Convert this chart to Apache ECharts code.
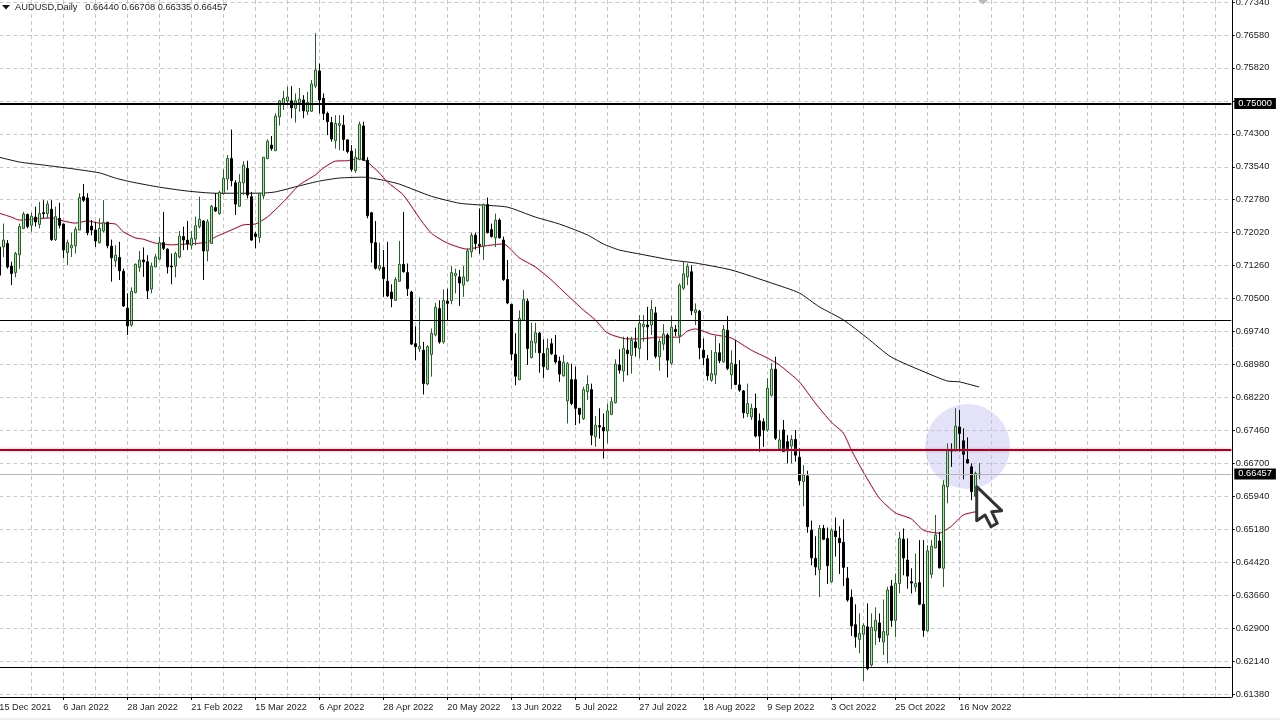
<!DOCTYPE html>
<html><head><meta charset="utf-8">
<style>html,body{margin:0;padding:0;background:#fff}#c{width:1280px;height:720px}</style>
<script src="https://cdn.jsdelivr.net/npm/echarts@6/dist/echarts.min.js"></script>
</head><body><div id="c"></div>
<script>
const titleText = 'AUDUSD,Daily   0.66440 0.66708 0.66335 0.66457';
const totalSlots = 309;
const lastLabelIndex = 240;
const priceTicks = [0.7734,0.7658,0.7582,0.7506,0.743,0.7354,0.7278,0.7202,0.7126,0.705,0.6974,0.6898,0.6822,0.6746,0.667,0.6594,0.6518,0.6442,0.6366,0.629,0.6214,0.6138];
const hiddenPriceLabel = 0.7506;
const supportResistance = {major: 0.75, minor1: 0.7, minor2: 0.62, red: 0.6702};
const lastPrice = 0.66457;

const opens = [.7169,.7169,.7177,.7125,.7110,.7151,.7212,.7244,.7219,.7238,.7221,.7248,.7246,.7256,.7186,.7235,.7222,.7156,.7167,.7172,
.7208,.7285,.7282,.7217,.7208,.7179,.7206,.7226,.7171,.7137,.7145,.7113,.7028,.6989,.7064,.7122,.7139,.7135,.7072,.7123,
.7141,.7179,.7164,.7125,.7125,.7146,.7193,.7185,.7173,.7187,.7216,.7229,.7160,.7177,.7260,.7246,.7293,.7326,.7373,.7317,
.7263,.7317,.7350,.7285,.7199,.7191,.7287,.7373,.7404,.7391,.7469,.7498,.7506,.7506,.7489,.7502,.7508,.7481,.7482,.7540,
.7575,.7512,.7477,.7456,.7414,.7449,.7450,.7416,.7390,.7345,.7371,.7448,.7369,.7248,.7179,.7119,.7122,.7090,.7065,.7046,
.7090,.7129,.7110,.7065,.6946,.6934,.6931,.6853,.6921,.6966,.7027,.6950,.7044,.7045,.7103,.7100,.7081,.7091,.7158,.7196,
.7175,.7171,.7267,.7209,.7190,.7231,.7185,.7094,.7037,.6922,.6863,.7000,.7044,.6914,.6948,.6970,.6923,.6887,.6946,.6920,
.6906,.6872,.6814,.6863,.6863,.6797,.6773,.6835,.6840,.6731,.6757,.6753,.6745,.6783,.6810,.6897,.6883,.6931,.6919,.6950,
.6935,.6985,.6989,.6989,.7017,.6916,.6945,.6966,.6901,.6979,.6964,.7074,.7100,.7112,.7018,.7021,.6931,.6911,.6862,.6874,
.6925,.6904,.6977,.6874,.6898,.6851,.6837,.6785,.6777,.6797,.6768,.6766,.6747,.6827,.6887,.6704,.6747,.6720,.6710,.6725,
.6684,.6628,.6641,.6516,.6451,.6425,.6520,.6497,.6397,.6514,.6497,.6488,.6405,.6361,.6298,.6264,.6276,.6293,.6205,.6284,
.6302,.6258,.6274,.6387,.6308,.6393,.6495,.6447,.6397,.6385,.6395,.6345,.6284,.6414,.6475,.6491,.6428,.6616,.6701,.6699,
.6754,.6722,.6679,.6662,.6595,.66440];
const highs = [.7185,.7223,.7185,.7135,.7158,.7223,.7250,.7246,.7248,.7262,.7273,.7277,.7276,.7277,.7262,.7271,.7223,.7186,.7202,.7216,
.7293,.7314,.7293,.7231,.7227,.7235,.7277,.7227,.7186,.7173,.7181,.7119,.7062,.7076,.7131,.7160,.7168,.7150,.7133,.7153,
.7193,.7250,.7166,.7154,.7158,.7206,.7216,.7229,.7206,.7239,.7285,.7231,.7233,.7266,.7293,.7299,.7348,.7381,.7440,.7323,
.7337,.7367,.7368,.7296,.7204,.7294,.7376,.7417,.7425,.7477,.7508,.7529,.7539,.7540,.7523,.7536,.7519,.7527,.7554,.7662,
.7592,.7523,.7481,.7469,.7473,.7473,.7473,.7417,.7404,.7396,.7458,.7458,.7376,.7250,.7229,.7179,.7162,.7181,.7083,.7100,
.7183,.7250,.7131,.7068,.6986,.7053,.6950,.6943,.6981,.7040,.7046,.7071,.7073,.7125,.7119,.7116,.7125,.7166,.7202,.7202,
.7258,.7269,.7283,.7223,.7246,.7235,.7193,.7139,.7037,.6970,.7023,.7070,.7050,.6994,.6994,.6973,.6956,.6958,.6958,.6966,
.6916,.6920,.6904,.6900,.6893,.6797,.6847,.6873,.6854,.6779,.6797,.6785,.6808,.6823,.6910,.6933,.6962,.6962,.6962,.6983,
.7012,.7012,.7031,.7047,.7031,.6958,.6991,.6970,.7010,.6989,.7085,.7135,.7131,.7127,.7039,.7024,.6958,.6920,.6931,.6964,
.6947,.6989,.7010,.6931,.6954,.6908,.6839,.6854,.6808,.6831,.6785,.6774,.6866,.6901,.6916,.6747,.6770,.6735,.6735,.6747,
.6705,.6666,.6653,.6538,.6502,.6528,.6528,.6522,.6520,.6545,.6525,.6541,.6431,.6379,.6345,.6324,.6301,.6347,.6324,.6338,
.6324,.6356,.6385,.6401,.6416,.6512,.6520,.6497,.6428,.6462,.6493,.6493,.6481,.6493,.6551,.6512,.6631,.6716,.6716,.6797,
.6793,.6751,.6730,.6670,.6651,.66708];
const lows = [.7100,.7146,.7119,.7081,.7099,.7119,.7210,.7212,.7204,.7216,.7212,.7235,.7235,.7183,.7183,.7212,.7143,.7127,.7146,.7154,
.7208,.7273,.7196,.7196,.7169,.7177,.7202,.7166,.7089,.7123,.7093,.7031,.6966,.6985,.7062,.7112,.7100,.7049,.7062,.7122,
.7139,.7162,.7108,.7083,.7099,.7143,.7162,.7162,.7163,.7173,.7212,.7093,.7136,.7177,.7250,.7243,.7289,.7300,.7309,.7243,
.7262,.7289,.7281,.7183,.7166,.7179,.7279,.7371,.7391,.7391,.7449,.7485,.7496,.7466,.7456,.7481,.7466,.7473,.7481,.7535,
.7477,.7462,.7427,.7412,.7396,.7392,.7391,.7385,.7343,.7340,.7369,.7369,.7235,.7133,.7117,.7114,.7054,.7054,.7030,.7045,
.7088,.7110,.7056,.6943,.6908,.6927,.6829,.6850,.6870,.6963,.6946,.6946,.7000,.7037,.7062,.7033,.7054,.7089,.7145,.7163,
.7153,.7139,.7200,.7191,.7169,.7189,.7091,.7037,.6908,.6850,.6862,.6999,.6897,.6912,.6925,.6879,.6867,.6885,.6920,.6900,
.6858,.6870,.6762,.6804,.6758,.6762,.6770,.6816,.6712,.6708,.6727,.6681,.6716,.6781,.6808,.6877,.6858,.6873,.6877,.6916,
.6912,.6951,.6908,.6966,.6912,.6884,.6931,.6868,.6897,.6964,.6947,.7070,.7081,.7012,.6989,.6910,.6897,.6861,.6858,.6853,
.6901,.6902,.6885,.6841,.6851,.6835,.6774,.6777,.6770,.6730,.6697,.6708,.6743,.6824,.6724,.6701,.6697,.6670,.6670,.6674,
.6620,.6571,.6510,.6435,.6412,.6362,.6493,.6392,.6395,.6455,.6415,.6387,.6351,.6272,.6245,.6232,.6168,.6193,.6201,.6251,
.6258,.6228,.6209,.6293,.6270,.6370,.6412,.6381,.6370,.6374,.6343,.6270,.6282,.6405,.6474,.6428,.6385,.6578,.6662,.6697,
.6697,.6633,.6670,.6585,.6593,.66335];
const closes = [.7104,.7185,.7123,.7108,.7154,.7216,.7245,.7216,.7240,.7227,.7246,.7246,.7268,.7186,.7239,.7219,.7162,.7179,.7173,.7210,
.7283,.7277,.7202,.7208,.7183,.7212,.7225,.7172,.7144,.7150,.7114,.7033,.6987,.7067,.7129,.7139,.7135,.7068,.7125,.7146,
.7179,.7166,.7123,.7123,.7154,.7194,.7185,.7176,.7189,.7218,.7233,.7160,.7227,.7263,.7252,.7295,.7327,.7373,.7322,.7268,
.7319,.7358,.7289,.7185,.7193,.7293,.7376,.7413,.7396,.7471,.7506,.7512,.7515,.7490,.7506,.7510,.7483,.7502,.7545,.7577,
.7508,.7477,.7458,.7418,.7454,.7454,.7417,.7389,.7348,.7376,.7452,.7369,.7241,.7179,.7120,.7126,.7096,.7056,.7050,.7094,
.7129,.7112,.7073,.6945,.6939,.6940,.6854,.6939,.6970,.7030,.6950,.7046,.7039,.7110,.7108,.7086,.7100,.7160,.7196,.7177,
.7172,.7267,.7202,.7193,.7231,.7190,.7094,.7040,.6922,.6871,.7004,.7048,.6935,.6952,.6971,.6925,.6893,.6935,.6923,.6904,
.6876,.6903,.6900,.6808,.6797,.6783,.6840,.6852,.6735,.6758,.6754,.6745,.6791,.6812,.6899,.6885,.6935,.6923,.6954,.6937,
.6993,.6991,.6985,.7025,.6917,.6951,.6968,.6908,.6984,.6974,.7081,.7107,.7124,.7022,.7024,.6937,.6914,.6872,.6877,.6926,
.6907,.6979,.6889,.6901,.6852,.6839,.6787,.6808,.6797,.6733,.6733,.6747,.6843,.6887,.6728,.6724,.6697,.6699,.6725,.6689,
.6630,.6643,.6524,.6452,.6431,.6520,.6495,.6434,.6516,.6501,.6487,.6430,.6355,.6295,.6270,.6278,.6296,.6197,.6292,.6308,
.6268,.6282,.6378,.6308,.6393,.6497,.6452,.6410,.6394,.6393,.6345,.6285,.6468,.6479,.6505,.6429,.6620,.6699,.6698,.6756,
.6739,.6691,.6671,.6605,.6647,.66457];

const ma50Index = [0,3,5,9,13,16,19,22,25,29,31,34,36,39,43,47,52,54,58,61,64,67,71,75,79,81,84,87,90,92,95,97,101,105,108,112,117,121,126,130,134,138,142,146,149,152,157,160,165,170,172,174,178,183,188,192,195,200,204,208,211,213,216,220,224,228,231,235,238,241,245];
const ma50Values = [.7247,.7238,.7231,.7234,.7236,.7229,.7224,.7229,.7224,.7222,.7204,.7190,.7187,.7178,.7174,.7176,.7180,.7192,.7208,.7220,.7222,.7238,.7273,.7312,.7335,.7351,.7367,.7368,.7373,.7365,.7340,.7319,.7289,.7236,.7201,.7178,.7164,.7171,.7176,.7144,.7123,.7093,.7058,.7024,.7001,.6971,.6957,.6957,.6961,.6961,.6975,.6980,.6968,.6959,.6931,.6913,.6897,.6858,.6809,.6765,.6740,.6701,.6650,.6590,.6556,.6542,.6516,.6509,.6525,.6551,.6560];
const ma200Index = [0,5,11,17,25,29,33,40,47,54,65,69,75,80,85,91,96,100,108,115,120,127,134,140,147,151,155,160,168,174,183,193,200,205,211,217,223,232,237,240,245];
const ma200Values = [.7376,.7365,.7358,.7351,.7340,.7328,.7319,.7307,.7298,.7293,.7293,.7296,.7310,.7321,.7328,.7330,.7323,.7314,.7286,.7270,.7266,.7261,.7238,.7222,.7197,.7176,.7162,.7153,.7139,.7132,.7116,.7086,.7063,.7031,.7001,.6959,.6915,.6878,.6860,.6858,.6846];

const monthNames = ['Jan','Feb','Mar','Apr','May','Jun','Jul','Aug','Sep','Oct','Nov','Dec'];
const categories = [];
for (let d = new Date(Date.UTC(2021,11,15)); categories.length < totalSlots; d = new Date(d.getTime()+86400000)) {
  const w = d.getUTCDay();
  if (w !== 0 && w !== 6) categories.push(d.getUTCDate()+' '+monthNames[d.getUTCMonth()]+' '+d.getUTCFullYear());
}

const FONT = '"Liberation Sans", Arial, sans-serif';
const candleData = opens.map((o,i)=>[o,closes[i],lows[i],highs[i]]);
const priceBadge = {show:true,position:'end',distance:3,color:'#fff',backgroundColor:'#000',padding:[1,4,1,4],fontFamily:FONT,fontSize:9.3};

const chart = echarts.init(document.getElementById('c'), null, {renderer:'canvas'});
chart.setOption({
  animation:false,
  backgroundColor:'#ffffff',
  title:{text:titleText,left:15,top:3,padding:0,textStyle:{fontFamily:FONT,fontSize:9.3,fontWeight:'normal',color:'#222'}},
  grid:{left:-0.7,top:0,width:1232,height:697,containLabel:false,outerBoundsMode:'none'},
  xAxis:{type:'category',data:categories,boundaryGap:false,
    axisLine:{show:true,onZero:false,lineStyle:{color:'#000',width:1}},
    axisTick:{show:true,length:3,interval:i=>i%16===0&&i<=lastLabelIndex,lineStyle:{color:'#000'}},
    axisLabel:{show:true,interval:i=>i%16===0&&i<=lastLabelIndex,align:'left',margin:6,fontFamily:FONT,fontSize:9.2,color:'#222',hideOverlap:false},
    splitLine:{show:true,interval:i=>i%8===0,lineStyle:{color:'#c8c8c8',type:[4,3],width:1}}
  },
  yAxis:{type:'value',position:'right',offset:1.4,min:0.61312,max:0.77386,scale:true,
    axisLine:{show:true,onZero:false,lineStyle:{color:'#000',width:1}},
    axisTick:{show:true,length:2,customValues:priceTicks,lineStyle:{color:'#000'}},
    axisLabel:{show:true,margin:3,customValues:priceTicks.filter(v=>v!==hiddenPriceLabel),formatter:v=>v.toFixed(5),fontFamily:FONT,fontSize:9.3,color:'#222'},
    splitLine:{show:true,lineStyle:{color:'#c8c8c8',type:[4,3],width:1}}
  },
  series:[
    {type:'line',name:'MA200',data:ma200Index.map((k,i)=>[k,ma200Values[i]]),showSymbol:false,symbol:'none',smooth:0.2,z:3,silent:true,lineStyle:{color:'#111',width:1}},
    {type:'line',name:'MA50',data:ma50Index.map((k,i)=>[k,ma50Values[i]]),showSymbol:false,symbol:'none',smooth:0.2,z:3,silent:true,lineStyle:{color:'#7c1836',width:1,shadowColor:'rgba(230,130,150,.5)',shadowBlur:2}},
    {type:'candlestick',name:'AUDUSD',data:candleData,barWidth:3,z:4,silent:true,
      itemStyle:{color:'#a2e8a2',color0:'#000',borderColor:'#2f5a2f',borderColor0:'#000',borderWidth:1},
      markLine:{silent:true,symbol:'none',animation:false,z:6,precision:5,
        data:[
          {yAxis:lastPrice,lineStyle:{color:'#b4b4b4',width:1,type:'solid'},label:Object.assign({},priceBadge,{formatter:lastPrice.toFixed(5)})},
          {yAxis:supportResistance.major,lineStyle:{color:'#000',width:2,type:'solid'},label:Object.assign({},priceBadge,{formatter:supportResistance.major.toFixed(5)})},
          {yAxis:supportResistance.minor1,lineStyle:{color:'#000',width:1,type:'solid'},label:{show:false}},
          {yAxis:supportResistance.minor2,lineStyle:{color:'#000',width:1,type:'solid'},label:{show:false}},
          {yAxis:supportResistance.red,lineStyle:{color:'#8a0f2c',width:2,type:'solid',shadowColor:'rgba(235,120,145,.8)',shadowBlur:3},label:{show:false}}
        ]}
    }
  ],
  graphic:[
    {type:'circle',silent:true,z:1,shape:{cx:967.5,cy:446.5,r:42.5},style:{fill:'rgba(190,185,240,0.42)'}},
    {type:'polygon',silent:true,z:1,shape:{points:[[2,5],[10,5],[6,9.5]]},style:{fill:'#111'}},
    {type:'polygon',silent:true,z:1,shape:{points:[[978,0],[988,0],[983,4.5]]},style:{fill:'#b8b8b8'}},
    {type:'rect',silent:true,z:1,shape:{x:0,y:718,width:1280,height:2},style:{fill:'#efefef'}},
    {type:'polygon',silent:true,z:20,shape:{points:[[976.7,486.7],[1001.7,510.7],[991.7,511.7],[997.3,523.3],[991,526.7],[985,515],[976.7,520.7]]},style:{fill:'#fff',stroke:'#333',lineWidth:3,lineJoin:'round'}}
  ]
});
</script></body></html>
